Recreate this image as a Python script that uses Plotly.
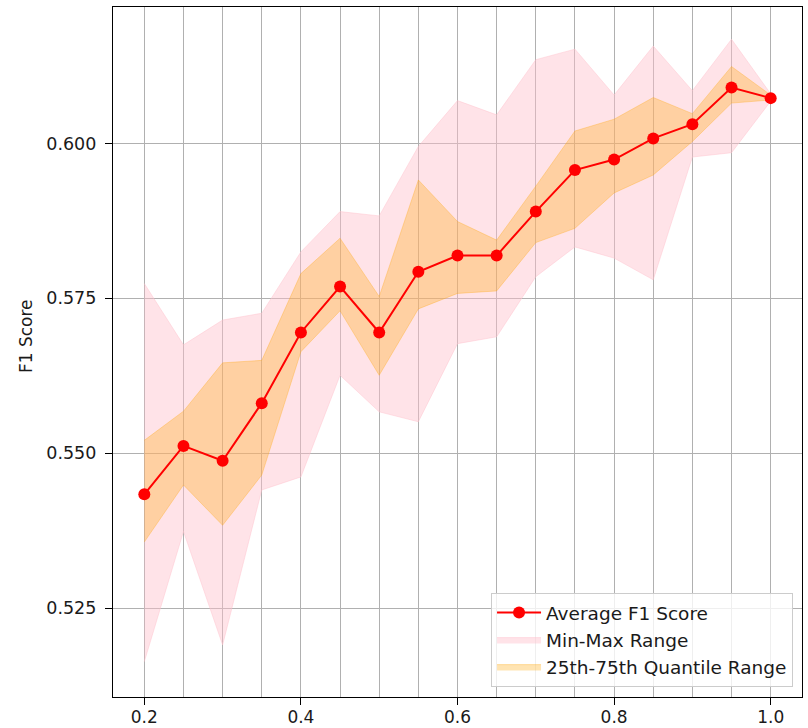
import plotly.graph_objects as go

x_vals = [0.2, 0.25, 0.3, 0.35, 0.4, 0.45, 0.5, 0.55, 0.6, 0.65, 0.7, 0.75, 0.8, 0.85, 0.9, 0.95, 1.0]
mean_f1 = [0.5434, 0.5512, 0.5488, 0.5581, 0.5695, 0.5769, 0.5695, 0.5793, 0.5819, 0.5819,
           0.5890, 0.5957, 0.5974, 0.6008, 0.6031, 0.6090, 0.6073]
max_f1 = [0.5774, 0.5675, 0.5715, 0.5726, 0.5825, 0.5890, 0.5883, 0.5995, 0.6069, 0.6046,
          0.6135, 0.6152, 0.6078, 0.6157, 0.6085, 0.6168, 0.6080]
min_f1 = [0.5164, 0.5374, 0.5191, 0.5441, 0.5462, 0.5626, 0.5567, 0.5551, 0.5677, 0.5688,
          0.5785, 0.5833, 0.5815, 0.5780, 0.5978, 0.5985, 0.6068]
q75_f1 = [0.5521, 0.5568, 0.5646, 0.5650, 0.5790, 0.5847, 0.5753, 0.5941, 0.5874, 0.5844,
          0.5931, 0.6020, 0.6039, 0.6074, 0.6048, 0.6124, 0.6078]
q25_f1 = [0.5357, 0.5449, 0.5384, 0.5465, 0.5664, 0.5730, 0.5626, 0.5733, 0.5758, 0.5762,
          0.5840, 0.5863, 0.5920, 0.5949, 0.6003, 0.6065, 0.6070]

x_tick_vals = [0.2, 0.4, 0.6, 0.8, 1.0]
x_tick_text = ["0.2", "0.4", "0.6", "0.8", "1.0"]
y_tick_vals = [0.525, 0.550, 0.575, 0.600]
y_tick_text = ["0.525", "0.550", "0.575", "0.600"]

PINK_FILL = "rgba(255,192,203,0.45)"
PINK_EDGE = "rgba(255,192,203,0.45)"
ORANGE_FILL = "rgba(255,165,0,0.3)"
ORANGE_EDGE = "rgba(255,165,0,0.3)"

fig = go.Figure()

fig.add_trace(go.Scatter(x=x_vals, y=min_f1, mode="lines", line=dict(color=PINK_EDGE, width=1),
                         showlegend=False, hoverinfo="skip"))
fig.add_trace(go.Scatter(x=x_vals, y=max_f1, mode="lines", line=dict(color=PINK_EDGE, width=1),
                         fill="tonexty", fillcolor=PINK_FILL, name="Min-Max Range", legendrank=2))
fig.add_trace(go.Scatter(x=x_vals, y=q25_f1, mode="lines", line=dict(color=ORANGE_EDGE, width=1),
                         showlegend=False, hoverinfo="skip"))
fig.add_trace(go.Scatter(x=x_vals, y=q75_f1, mode="lines", line=dict(color=ORANGE_EDGE, width=1),
                         fill="tonexty", fillcolor=ORANGE_FILL, name="25th-75th Quantile Range", legendrank=3))
fig.add_trace(go.Scatter(x=x_vals, y=mean_f1, mode="lines+markers", name="Average F1 Score",
                         line=dict(color="#ff0000", width=2),
                         marker=dict(color="#ff0000", size=12, symbol="circle"), legendrank=1))

axis_font = dict(family="DejaVu Sans", size=17, color="#1a1a1a")
grid_col = "#b0b0b0"

fig.update_layout(
    width=808, height=728,
    margin=dict(l=113, r=6, t=7, b=31, autoexpand=False),
    paper_bgcolor="white", plot_bgcolor="white",
    font=dict(family="DejaVu Sans", size=17, color="#1a1a1a"),
    showlegend=True,
    legend=dict(
        x=0.987, xanchor="right", y=0.0145, yanchor="bottom",
        bgcolor="rgba(255,255,255,0.8)", bordercolor="#cccccc", borderwidth=1,
        font=dict(family="DejaVu Sans", size=18.5, color="#1a1a1a"),
        traceorder="normal", itemwidth=44,
    ),
    xaxis=dict(
        range=[0.16, 1.04], tickmode="array", tickvals=x_tick_vals, ticktext=x_tick_text,
        showgrid=True, gridcolor=grid_col, gridwidth=1, automargin=False,
        minor=dict(dtick=0.05, tick0=0.2, showgrid=True, gridcolor=grid_col, gridwidth=1, ticks=""),
        ticks="outside", ticklen=7, tickcolor="black", tickwidth=1,
        showline=True, linecolor="black", linewidth=1.2, mirror=True,
        zeroline=False, tickfont=axis_font, ticklabelstandoff=-3,
    ),
    yaxis=dict(
        range=[0.5107, 0.622], tickmode="array", tickvals=y_tick_vals, ticktext=y_tick_text,
        showgrid=True, gridcolor=grid_col, gridwidth=1, automargin=False,
        ticks="outside", ticklen=7, tickcolor="black", tickwidth=1,
        showline=True, linecolor="black", linewidth=1.2, mirror=True,
        zeroline=False, tickfont=dict(family="DejaVu Sans", size=17.5, color="#1a1a1a"),
        ticklabelstandoff=5,
    ),
    annotations=[dict(
        text="F1 Score", xref="paper", yref="paper", x=-0.1263, y=0.523,
        xanchor="center", yanchor="middle", textangle=-90, showarrow=False,
        font=dict(family="DejaVu Sans", size=17, color="#1a1a1a"),
    )],
)

fig.write_html("out.html", config={"displayModeBar": False},
               post_script="document.body.style.margin='0';document.body.style.overflow='hidden';")
